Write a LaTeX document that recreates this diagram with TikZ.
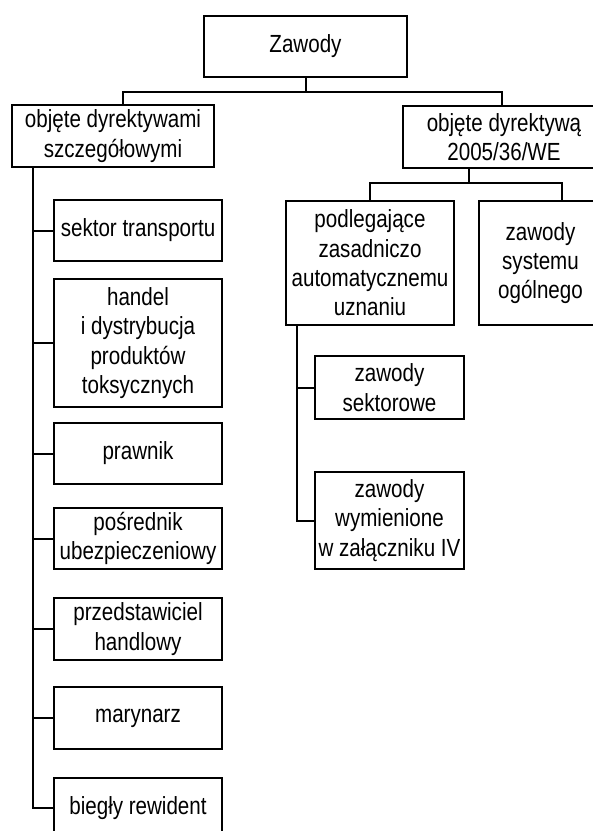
\documentclass[tikz,border=0pt]{standalone}
\usepackage{fontspec}
\setmainfont{Liberation Sans}[FakeStretch=0.83]
\usepackage{tikz}
\tikzset{box/.style={draw, line width=2pt, inner sep=0pt, align=center, font=\fontsize{24.8}{29.3}\selectfont}}
\tikzset{link/.style={line width=2pt}}

\begin{document}
\begin{tikzpicture}[x=1pt, y=-1pt]
		\useasboundingbox (0,0) rectangle (593,831);
		\node(zaw)[box, minimum width=203, minimum height=61] at (305.5,46.5){Zawody};
		\node(szcz)[box, minimum width=202, minimum height=62] at (113,136){objęte dyrektywami\\szczegółowymi};
		\node(dyr)[box, minimum width=202, minimum height=62] at (504,137){objęte dyrektywą\\2005/36/WE};
		\node(podl)[box, minimum width=168, minimum height=124] at (370,263){podlegające\\zasadniczo\\automatycznemu\\uznaniu};
		\node(ogol)[box, minimum width=123, minimum height=124] at (540.5,263){zawody\\systemu\\ogólnego};
		\node(sekt)[box, minimum width=149, minimum height=63] at (389.5,387.5){zawody\\sektorowe};
		\node(wym)[box, minimum width=149, minimum height=97] at (389.5,520.5){zawody\\wymienione\\w załączniku IV};
		\node(trans)[box, minimum width=168, minimum height=61] at (138,230.5){sektor transportu};
		\node(handel)[box, minimum width=168, minimum height=128] at (138,343){handel\\i dystrybucja\\produktów\\toksycznych};
		\node(prawnik)[box, minimum width=168, minimum height=61] at (138,453.5){prawnik};
		\node(posr)[box, minimum width=168, minimum height=61] at (138,538.5){pośrednik\\ubezpieczeniowy};
		\node(przed)[box, minimum width=168, minimum height=62] at (138,629){przedstawiciel\\handlowy};
		\node(maryn)[box, minimum width=168, minimum height=62] at (138,718){marynarz};
		\node(biegly)[box, minimum width=168, minimum height=60] at (138,808){biegły rewident};
		\draw[link](zaw.south) -- ++(0,14) coordinate(zb) -| ([xshift=10pt]szcz.north);
		\draw[link](zb) -| ([xshift=-2pt]dyr.north);
		\draw[link]([xshift=-35pt]dyr.south) -- ++(0,14) coordinate(db) -| (podl.north);
		\draw[link](db) -| ([xshift=21pt]ogol.north);
		\coordinate(lt) at ([xshift=22pt]szcz.south west);
		\draw[link](lt) |- (biegly.west);
		\foreach \n in {trans,handel,prawnik,posr,przed,maryn}
			\draw[link](lt |- \n.west) -- (\n.west);
		\coordinate(rt) at ([xshift=12pt]podl.south west);
		\draw[link](rt) |- (wym.west);
		\draw[link](rt |- sekt.west) -- (sekt.west);
	\end{tikzpicture}
\end{document}
